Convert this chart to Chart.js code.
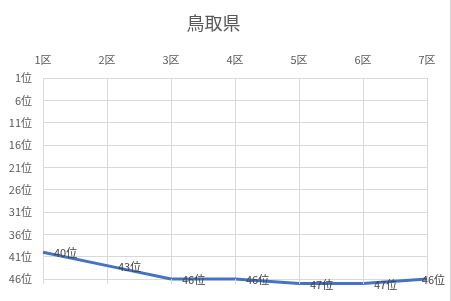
<!DOCTYPE html>
<html>
<head>
<meta charset="utf-8">
<script src="https://cdn.jsdelivr.net/npm/chart.js@4"></script>
<style>
  html, body { margin: 0; padding: 0; background: #fff; }
  #wrap { width: 451px; height: 301px; }
</style>
</head>
<body>
<div id="wrap"><canvas id="chart" width="451" height="301"></canvas></div>
<script>
const titleText = '鳥取県';
const districts = ['1区', '2区', '3区', '4区', '5区', '6区', '7区'];
const ranks = [40, 43, 46, 46, 47, 47, 46];
const rankMin = 1;
const rankMax = 46;
const rankStep = 5;

const FONT = '"Noto Sans CJK JP", "Noto Sans", sans-serif';
const TEXT = '#595959';
const GRID = '#d9d9d9';

// labels to the right of each point, plus the little tick stubs below the plot
const extras = {
  id: 'extras',
  afterDatasetsDraw(chart) {
    const ctx = chart.ctx;
    const area = chart.chartArea;
    const x = chart.scales.x;
    ctx.save();
    ctx.strokeStyle = GRID;
    ctx.lineWidth = 1;
    x.ticks.forEach((t, i) => {
      const px = Math.round(x.getPixelForTick(i)) + 0.5;
      ctx.beginPath();
      ctx.moveTo(px, area.bottom);
      ctx.lineTo(px, area.bottom + 5);
      ctx.stroke();
    });
    // chart area border, right edge
    ctx.beginPath();
    ctx.moveTo(chart.width - 0.5, 0);
    ctx.lineTo(chart.width - 0.5, chart.height);
    ctx.stroke();

    const meta = chart.getDatasetMeta(0);
    ctx.font = '11px ' + FONT;
    ctx.fillStyle = '#404040';
    ctx.textBaseline = 'middle';
    ctx.textAlign = 'left';
    meta.data.forEach((pt, i) => {
      const txt = ranks[i] + '位';
      const w = ctx.measureText(txt).width;
      let lx = pt.x + 11;
      if (lx + w > chart.width - 6) lx = chart.width - 6 - w;
      ctx.fillText(txt, lx, pt.y + 1);
    });
    ctx.restore();
  }
};

new Chart(document.getElementById('chart'), {
  type: 'line',
  data: {
    labels: districts,
    datasets: [{
      data: ranks,
      borderColor: '#4472C4',
      borderWidth: 3,
      pointRadius: 0,
      tension: 0,
      clip: false,
      fill: false
    }]
  },
  options: {
    responsive: false,
    animation: false,
    layout: { padding: { left: 0, right: 24, top: 0, bottom: 22 } },
    plugins: {
      legend: { display: false },
      tooltip: { enabled: false },
      title: {
        display: true,
        text: titleText,
        color: TEXT,
        font: { family: FONT, size: 18, weight: 'normal', lineHeight: 1.2 },
        padding: { top: 12, bottom: 6.4 }
      }
    },
    scales: {
      x: {
        position: 'top',
        offset: false,
        afterFit: s => { s.height = 38; },
        grid: { color: GRID, drawTicks: false },
        border: { display: false },
        ticks: {
          color: TEXT,
          font: { family: FONT, size: 11 },
          padding: 12,
          maxRotation: 0
        }
      },
      y: {
        reverse: true,
        min: rankMin,
        max: rankMax,
        afterFit: s => { s.width = 43; },
        grid: { color: GRID, drawTicks: false },
        border: { display: false },
        ticks: {
          stepSize: rankStep,
          color: TEXT,
          font: { family: FONT, size: 11 },
          padding: 11,
          callback: v => v + '位'
        }
      }
    }
  },
  plugins: [extras]
});
</script>
</body>
</html>
